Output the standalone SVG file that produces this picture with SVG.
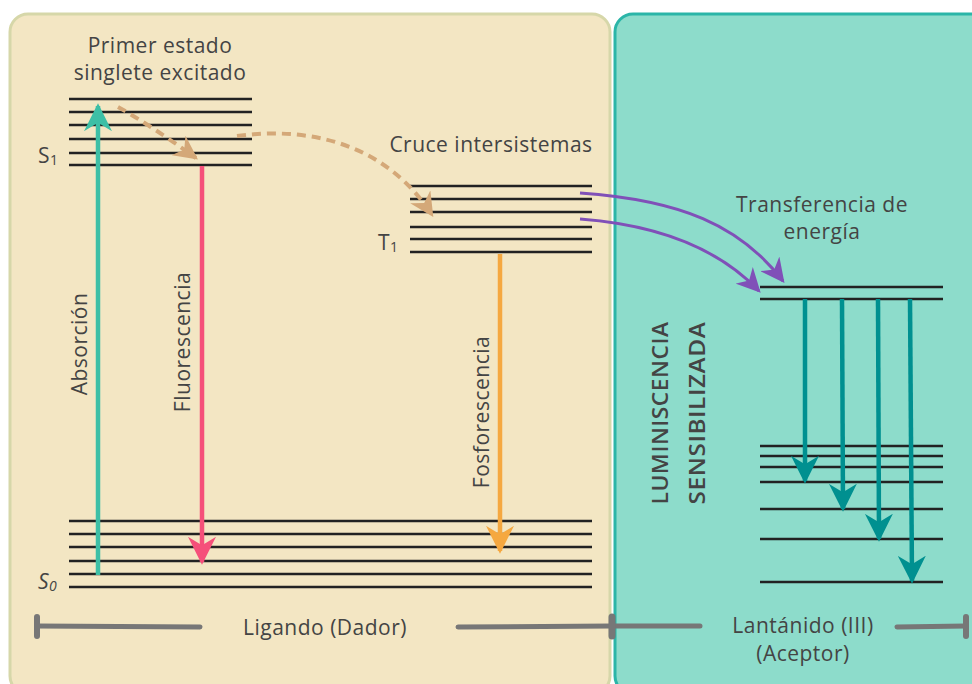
<svg xmlns="http://www.w3.org/2000/svg" width="972" height="684" viewBox="0 0 972 684">
<defs>
<style>
.t{font-family:"Open Sans","Lato",sans-serif;fill:#444;font-size:21px;letter-spacing:0.5px;}
.lv{stroke:#222;stroke-width:2.4;fill:none;}
.ax{stroke:#777;stroke-width:5;fill:none;stroke-linecap:round;}
</style>
<marker id="mTeal" viewBox="0 0 10 10" refX="9" refY="5" markerWidth="28" markerHeight="28" markerUnits="userSpaceOnUse" orient="auto"><path d="M0,0 L10,5 L0,10 L3,5 Z" fill="#3dbfa6"/></marker>
<marker id="mPink" viewBox="0 0 10 10" refX="9" refY="5" markerWidth="28" markerHeight="28" markerUnits="userSpaceOnUse" orient="auto"><path d="M0,0 L10,5 L0,10 L3,5 Z" fill="#f5507a"/></marker>
<marker id="mOr" viewBox="0 0 10 10" refX="9" refY="5" markerWidth="28" markerHeight="28" markerUnits="userSpaceOnUse" orient="auto"><path d="M0,0 L10,5 L0,10 L3,5 Z" fill="#f5a840"/></marker>
<marker id="mDg" viewBox="0 0 10 10" refX="9" refY="5" markerWidth="28" markerHeight="28" markerUnits="userSpaceOnUse" orient="auto"><path d="M0,0 L10,5 L0,10 L3,5 Z" fill="#009090"/></marker>
<marker id="mTan" viewBox="0 0 10 10" refX="9" refY="5" markerWidth="24" markerHeight="24" markerUnits="userSpaceOnUse" orient="auto"><path d="M0,0 L10,5 L0,10 L3,5 Z" fill="#d4a878"/></marker>
<marker id="mPur" viewBox="0 0 10 10" refX="9" refY="5" markerWidth="24" markerHeight="24" markerUnits="userSpaceOnUse" orient="auto"><path d="M0,0 L10,5 L0,10 L3,5 Z" fill="#8050b8"/></marker>
</defs>
<rect width="972" height="684" fill="#ffffff"/>
<g id="panel-ligand">
<rect x="10" y="14" width="600" height="680" rx="18" fill="#f3e6c3" stroke="#d6d7a9" stroke-width="3"/>
</g>
<g id="panel-lanthanide">
<rect x="615" y="14" width="380" height="680" rx="18" fill="#8ddccb" stroke="#2bb5a8" stroke-width="3"/>
</g>
<g id="S1">
<path class="lv" d="M69,99H252M69,112H252M69,125H252M69,139H252M69,153H252M69,165H252"/>
<text class="t" x="38" y="163" font-size="21">S<tspan font-size="14" dy="2">1</tspan></text>
<text class="t" x="160" y="53" text-anchor="middle">Primer estado</text>
<text class="t" x="160" y="80" text-anchor="middle">singlete excitado</text>
</g>
<g id="T1">
<path class="lv" d="M410,186H592M410,199H592M410,212H592M410,227H592M410,239H592M410,252H592"/>
<text class="t" x="378" y="250" font-size="21">T<tspan font-size="14" dy="2">1</tspan></text>
<text class="t" x="491" y="152" text-anchor="middle">Cruce intersistemas</text>
</g>
<g id="S0">
<path class="lv" d="M69,521H592M69,534H592M69,547H592M69,561H592M69,574H592M69,587H592"/>
<text class="t" x="38" y="589" font-size="21" font-style="italic">S<tspan font-size="14" dy="2">0</tspan></text>
</g>
<g id="Ln-levels">
<path class="lv" d="M760,287H943M760,299H943M760,446H943M760,456H943M760,467H943M760,482H943M760,509H943M760,539H943M760,582H943"/>
<text class="t" x="822" y="212" text-anchor="middle">Transferencia de</text>
<text class="t" x="822" y="239" text-anchor="middle">energía</text>
</g>
<g id="connectors">
<path d="M98,575 L98,106" stroke="#3dbfa6" stroke-width="4.5" fill="none" marker-end="url(#mTeal)"/>
<path d="M202,166 L202,562" stroke="#f5507a" stroke-width="4.5" fill="none" marker-end="url(#mPink)"/>
<path d="M500,254 L500,551" stroke="#f5a840" stroke-width="4.5" fill="none" marker-end="url(#mOr)"/>
<path d="M118,107 Q150,125 196,158" stroke="#d4a878" stroke-width="4" fill="none" stroke-dasharray="9 6" marker-end="url(#mTan)"/>
<path d="M237,136 C320,125 390,150 432,215" stroke="#d4a878" stroke-width="4" fill="none" stroke-dasharray="9 6" marker-end="url(#mTan)"/>
<path d="M580,193 C680,200 740,225 783,281" stroke="#8050b8" stroke-width="3" fill="none" marker-end="url(#mPur)"/>
<path d="M580,219 C660,225 720,250 759,291" stroke="#8050b8" stroke-width="3" fill="none" marker-end="url(#mPur)"/>
<path d="M805,299 L805,481" stroke="#009090" stroke-width="4.5" fill="none" marker-end="url(#mDg)"/>
<path d="M842,299 L843,509" stroke="#009090" stroke-width="4.5" fill="none" marker-end="url(#mDg)"/>
<path d="M878,299 L879,539" stroke="#009090" stroke-width="4.5" fill="none" marker-end="url(#mDg)"/>
<path d="M910,299 L912,581" stroke="#009090" stroke-width="4.5" fill="none" marker-end="url(#mDg)"/>
</g>
<g id="labels">
<text class="t" transform="translate(87,344) rotate(-90)" text-anchor="middle">Absorción</text>
<text class="t" transform="translate(190,342) rotate(-90)" text-anchor="middle">Fluorescencia</text>
<text class="t" transform="translate(489,412) rotate(-90)" text-anchor="middle">Fosforescencia</text>
<text class="t" transform="translate(668,413) rotate(-90)" text-anchor="middle" font-size="24" font-weight="600" textLength="183" lengthAdjust="spacingAndGlyphs">LUMINISCENCIA</text>
<text class="t" transform="translate(705,413) rotate(-90)" text-anchor="middle" font-size="24" font-weight="600" textLength="183" lengthAdjust="spacingAndGlyphs">SENSIBILIZADA</text>
</g>
<g id="axis">
<path class="ax" d="M37,626 L200,627"/>
<path d="M37,617 V636" stroke="#777" stroke-width="6" stroke-linecap="round"/>
<path class="ax" d="M458,627 L612,626 L700,626"/>
<path d="M612,617 V636" stroke="#777" stroke-width="7" stroke-linecap="round"/>
<path class="ax" d="M897,627 L966,626"/>
<path d="M966,617 V636" stroke="#777" stroke-width="6" stroke-linecap="round"/>
<text class="t" x="325" y="635" text-anchor="middle">Ligando (Dador)</text>
<text class="t" x="803" y="633" text-anchor="middle" font-size="20">Lantánido (III)</text>
<text class="t" x="803" y="661" text-anchor="middle" font-size="20">(Aceptor)</text>
</g>
</svg>
